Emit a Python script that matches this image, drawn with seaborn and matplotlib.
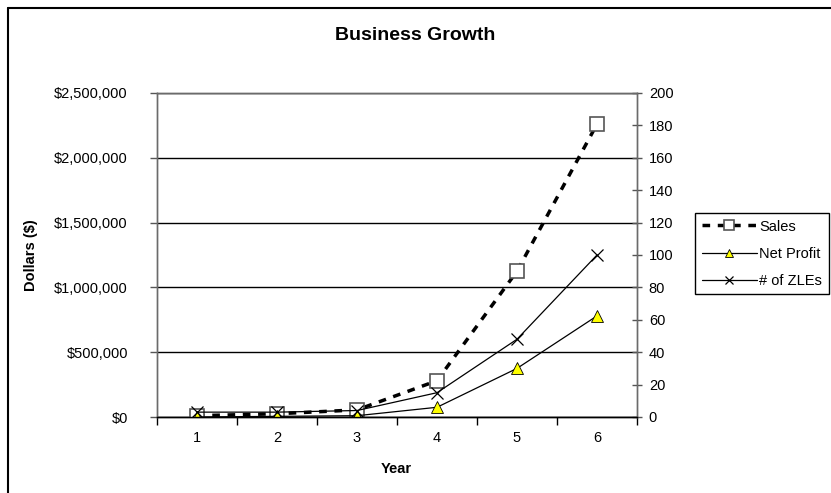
import numpy as np
import pandas as pd
import seaborn as sns
import matplotlib.pyplot as plt
from matplotlib.lines import Line2D
from matplotlib.ticker import FuncFormatter, MultipleLocator

years = [1, 2, 3, 4, 5, 6]
sales = [10000, 25000, 55000, 280000, 1125000, 2260000]
net_profit = [0, 5000, 10000, 75000, 375000, 780000]
zles = [3, 3, 4, 15, 48, 100]

df = pd.DataFrame({'Year': years, 'Sales': sales, 'Net Profit': net_profit, '# of ZLEs': zles})

sns.set_style('white')
plt.rcParams['font.family'] = ['Liberation Sans', 'DejaVu Sans']
plt.rcParams['text.color'] = 'black'
plt.rcParams['axes.labelcolor'] = 'black'
plt.rcParams['xtick.color'] = 'black'
plt.rcParams['ytick.color'] = 'black'

fig, ax = plt.subplots(figsize=(8.31, 4.93), dpi=100)
plt.subplots_adjust(left=157/831, right=637/831, top=1-93/493, bottom=1-417/493)
ax2 = ax.twinx()

# left axis: dollars
sns.lineplot(data=df, x='Year', y='Sales', ax=ax, color='black', linewidth=2.5,
             linestyle=(0, (2.2, 2.2)), marker='s', markersize=10,
             markerfacecolor='white', markeredgecolor='#555555', markeredgewidth=1.2,
             label='Sales', legend=False, zorder=4)
sns.lineplot(data=df, x='Year', y='Net Profit', ax=ax, color='black', linewidth=0.9,
             marker='^', markersize=8, markerfacecolor='#ffff00', markeredgecolor='black',
             markeredgewidth=0.6, label='Net Profit', legend=False, zorder=4)
# right axis: count
sns.lineplot(data=df, x='Year', y='# of ZLEs', ax=ax2, color='black', linewidth=0.9,
             marker='x', markersize=8, markeredgewidth=0.9, markeredgecolor='black',
             label='# of ZLEs', legend=False, zorder=4)

ax.set_xlim(0.5, 6.5)
ax.set_ylim(0, 2500000)
ax2.set_ylim(0, 200)

ax.yaxis.set_major_locator(MultipleLocator(500000))
ax.yaxis.set_major_formatter(FuncFormatter(lambda v, p: '${:,.0f}'.format(v)))
ax2.yaxis.set_major_locator(MultipleLocator(20))

ax.set_xticks(years)
ax.set_xticklabels([str(y) for y in years])
ax.set_xticks(np.arange(0.5, 7, 1), minor=True)
ax.tick_params(axis='x', which='major', length=0, labelsize=10.5, pad=10)
ax.tick_params(axis='x', which='minor', length=6, width=1, color='black', direction='out', bottom=True)
ax.tick_params(axis='y', length=5, width=1, color='#555555', direction='out', left=True, labelsize=10.5, pad=16)
ax2.tick_params(axis='y', length=7, width=1, color='#555555', direction='inout', right=True, labelsize=10.5, pad=5)

ax.grid(axis='y', color='black', linewidth=1)
ax.grid(axis='x', visible=False)
ax2.grid(False)

for a in (ax, ax2):
    for s in a.spines.values():
        s.set_color('#6b6b6b')
        s.set_linewidth(1)
    a.spines['bottom'].set_color('black')

ax.set_xlabel('Year', fontweight='bold', fontsize=10.5)
ax.xaxis.set_label_coords(0.498, -0.14)
ax.set_ylabel('Dollars ($)', fontweight='bold', fontsize=10.5)
ax.yaxis.set_label_coords(-0.248, 0.5)
ax2.set_ylabel('')

fig.text(415/831, 1-36/493, 'Business Growth', ha='center', va='center',
         fontsize=14, fontweight='bold')

# outer chart border (top and left edges visible)
fig.add_artist(Line2D([8/831, 1], [1-8/493, 1-8/493], color='black', linewidth=1.5))
fig.add_artist(Line2D([8/831, 8/831], [0, 1-8/493], color='black', linewidth=1.5))

handles = ax.get_lines()[:2] + ax2.get_lines()[:1]
leg = fig.legend(handles, ['Sales', 'Net Profit', '# of ZLEs'], loc='upper left',
                 bbox_to_anchor=(695/831, 1-213/493), fontsize=10.5, handlelength=3.8,
                 numpoints=1, markerscale=0.7, frameon=True, fancybox=False, framealpha=1,
                 edgecolor='black', labelspacing=0.9, borderpad=0.45, handletextpad=0.15,
                 borderaxespad=0)
leg.get_frame().set_linewidth(1)

fig.savefig('out.png', dpi=100)
